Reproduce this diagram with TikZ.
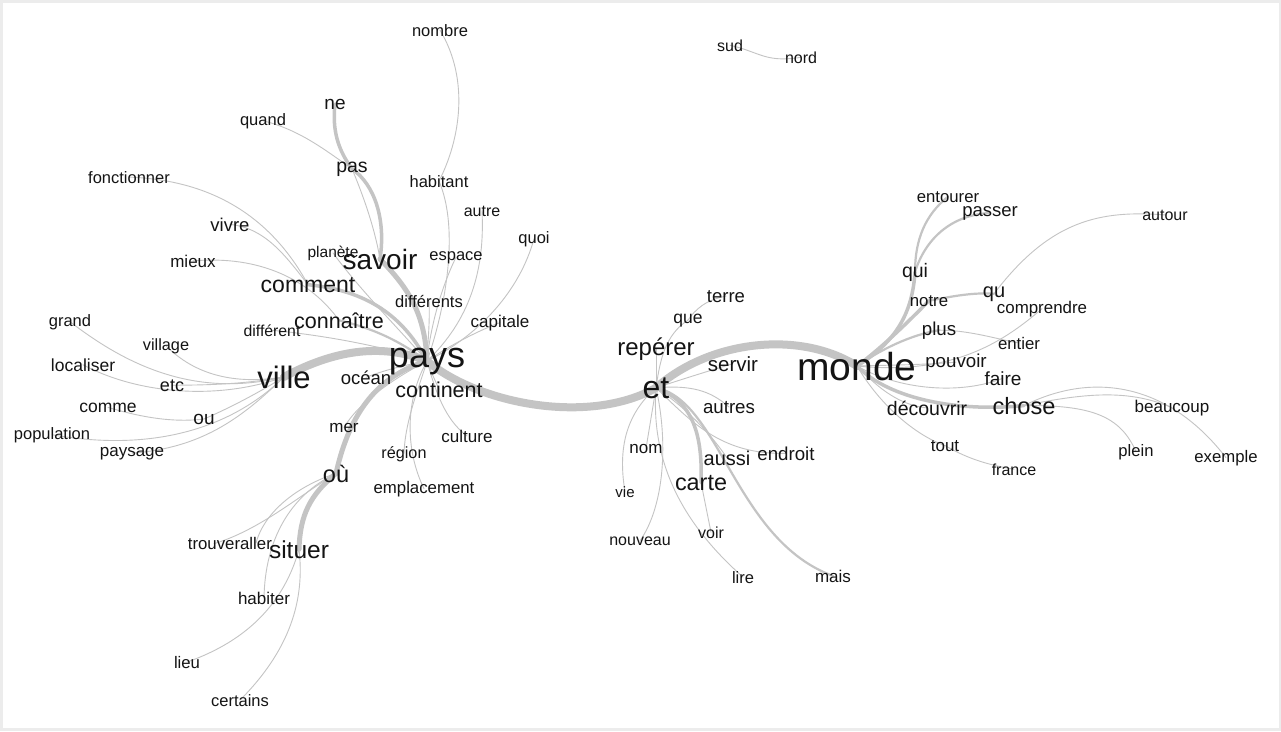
\documentclass[tikz,border=0pt]{standalone}
\usepackage{fontspec}
\setmainfont{Liberation Sans}
\pgfdeclarelayer{bg}
\pgfdeclarelayer{edges}
\pgfsetlayers{bg,edges,main}
\definecolor{edgec}{RGB}{196,196,196}
\definecolor{txt}{RGB}{20,20,20}
\definecolor{framec}{RGB}{236,236,236}
\tikzset{
  w/.style={font=\fontsize{#1}{#1}\selectfont, anchor=base, inner sep=0pt, text=txt},
  e1/.style={draw=edgec, line width=0.9pt, line cap=round},
  e2/.style={draw=edgec, line width=2.2pt, line cap=round},
  e3/.style={draw=edgec, line width=3.5pt, line cap=round},
  e4/.style={draw=edgec, line width=5pt, line cap=round},
  e5/.style={draw=edgec, line width=8pt, line cap=round}
}
\begin{document}
\begin{tikzpicture}[x=1pt,y=-1pt]
\useasboundingbox (0,0) rectangle (1281,731);
\begin{pgfonlayer}{bg}
\fill[framec] (0,0) rectangle (1281,731);
\fill[white] (3,3) rectangle (1279,728);
\end{pgfonlayer}
% ---------- words ----------
\node[w=16.5] (nombre) at (440,36) {nombre};
\node[w=19] (ne) at (335,109) {ne};
\node[w=16.5] (quand) at (263,125) {quand};
\node[w=19.5] (pas) at (352,172) {pas};
\node[w=16.5] (fonctionner) at (129,183) {fonctionner};
\node[w=16.5] (habitant) at (439,187) {habitant};
\node[w=16] (autre) at (482,216) {autre};
\node[w=18.5] (vivre) at (230,231) {vivre};
\node[w=16.5] (quoi) at (534,243) {quoi};
\node[w=15.5] (planete) at (333,257) {planète};
\node[w=16.5] (espace) at (456,260) {espace};
\node[w=28] (savoir) at (380,269) {savoir};
\node[w=17] (mieux) at (193,267) {mieux};
\node[w=23] (comment) at (308,292) {comment};
\node[w=16.5] (differents) at (429,307) {différents};
\node[w=16.5] (grand) at (70,326) {grand};
\node[w=17] (capitale) at (500,327) {capitale};
\node[w=21.5] (connaitre) at (339,328) {connaître};
\node[w=15.8] (different) at (272,336) {différent};
\node[w=16.3] (village) at (166,350) {village};
\node[w=36] (pays) at (427,367) {pays};
\node[w=17.5] (localiser) at (83,371) {localiser};
\node[w=18.5] (ocean) at (366,384) {océan};
\node[w=31] (ville) at (284,388) {ville};
\node[w=18] (etc) at (172,391) {etc};
\node[w=21.5] (continent) at (439,397) {continent};
\node[w=17.5] (comme) at (108,412) {comme};
\node[w=19] (ou) at (204,424) {ou};
\node[w=17] (mer) at (344,432) {mer};
\node[w=16.5] (population) at (52,439) {population};
\node[w=17] (culture) at (467,442) {culture};
\node[w=17] (paysage) at (132,456) {paysage};
\node[w=16.2] (region) at (404,458) {région};
\node[w=23.5] (oux) at (336,482) {où};
\node[w=16.8] (emplacement) at (424,493) {emplacement};
\node[w=16.8] (trouver) at (214,549) {trouver};
\node[w=16.8] (aller) at (256,549) {aller};
\node[w=24.5] (situer) at (299,558) {situer};
\node[w=17] (habiter) at (264,604) {habiter};
\node[w=16.7] (lieu) at (187,668) {lieu};
\node[w=16.5] (certains) at (240,706) {certains};
\node[w=16] (sud) at (730,51) {sud};
\node[w=16] (nord) at (801,63) {nord};
\node[w=18.5] (terre) at (726,302) {terre};
\node[w=17.5] (que) at (688,323) {que};
\node[w=24] (reperer) at (656,355) {repérer};
\node[w=20.5] (servir) at (733,371) {servir};
\node[w=32] (et) at (656,398) {et};
\node[w=18.7] (autres) at (729,413) {autres};
\node[w=17] (nom) at (646,453) {nom};
\node[w=18.7] (endroit) at (786,460) {endroit};
\node[w=20] (aussi) at (727,465) {aussi};
\node[w=23.4] (carte) at (701,490) {carte};
\node[w=15] (vie) at (625,497) {vie};
\node[w=16] (voir) at (711,538) {voir};
\node[w=16] (nouveau) at (640,545) {nouveau};
\node[w=16.5] (lire) at (743,583) {lire};
\node[w=17] (mais) at (833,582) {mais};
\node[w=16.7] (entourer) at (948,202) {entourer};
\node[w=18.5] (passer) at (990,216) {passer};
\node[w=16] (autour) at (1165,220) {autour};
\node[w=19.5] (qui) at (915,277) {qui};
\node[w=20] (qu) at (994,297) {qu};
\node[w=16.8] (notre) at (929,306) {notre};
\node[w=16.9] (comprendre) at (1042,313) {comprendre};
\node[w=18.7] (plus) at (939,335) {plus};
\node[w=16.8] (entier) at (1019,349) {entier};
\node[w=18.7] (pouvoir) at (956,367) {pouvoir};
\node[w=39] (monde) at (857,380) {monde};
\node[w=19] (faire) at (1003,385) {faire};
\node[w=19.5] (decouvrir) at (927,415) {découvrir};
\node[w=23.6] (chose) at (1024,414) {chose};
\node[w=17] (beaucoup) at (1172,412) {beaucoup};
\node[w=17] (tout) at (945,451) {tout};
\node[w=16.6] (plein) at (1136,456) {plein};
\node[w=16.7] (exemple) at (1226,462) {exemple};
\node[w=16] (france) at (1014,475) {france};
% ---------- edges ----------
\begin{pgfonlayer}{edges}
% trunk
\draw[e5] (ville.center) .. controls (325,355) and (375,340) .. (pays.center);
\draw[e5] (pays.center) .. controls (480,405) and (590,425) .. (et.center);
\draw[e5] (et.center) .. controls (710,340) and (800,330) .. (monde.center);
\draw[e4] (pays.center) .. controls (380,375) and (350,410) .. (oux.center);
\draw[e4] (oux.center) .. controls (310,495) and (300,515) .. (situer.center);
% savoir / pays cluster
\draw[e3] (ne.center) .. controls (332,130) and (338,150) .. (pas.center);
\draw[e3] (pas.center) .. controls (375,185) and (386,220) .. (savoir.center);
\draw[e4] (savoir.center) .. controls (405,285) and (425,310) .. (pays.center);
\draw[e3] (comment.center) .. controls (360,290) and (400,310) .. (pays.center);
\draw[e2] (connaitre.center) .. controls (380,330) and (405,345) .. (pays.center);
\draw[e1] (quand.center) .. controls (300,130) and (325,150) .. (pas.center);
\draw[e1] (pas.center) .. controls (365,200) and (375,230) .. (savoir.center);
\draw[e1] (fonctionner.center) .. controls (210,180) and (270,215) .. (comment.center);
\draw[e1] (vivre.center) .. controls (265,228) and (285,255) .. (comment.center);
\draw[e1] (mieux.center) .. controls (260,255) and (310,280) .. (connaitre.center);
\draw[e1] (different.center) .. controls (320,335) and (380,345) .. (pays.center);
\draw[e1] (planete.center) .. controls (360,290) and (400,330) .. (pays.center);
\draw[e1] (espace.center) .. controls (440,290) and (430,330) .. (pays.center);
\draw[e1] (differents.center) .. controls (430,320) and (428,340) .. (pays.center);
\draw[e1] (nombre.center) .. controls (470,80) and (460,140) .. (habitant.center);
\draw[e1] (habitant.center) .. controls (460,230) and (445,310) .. (pays.center);
\draw[e1] (autre.center) .. controls (485,270) and (470,320) .. (pays.center);
\draw[e1] (quoi.center) .. controls (520,290) and (480,335) .. (pays.center);
\draw[e1] (capitale.center) .. controls (480,330) and (450,345) .. (pays.center);
\draw[e1] (ocean.center) .. controls (385,370) and (405,365) .. (pays.center);
\draw[e1] (continent.center) .. controls (435,380) and (430,370) .. (pays.center);
\draw[e1] (culture.center) .. controls (445,420) and (435,390) .. (pays.center);
\draw[e1] (region.center) .. controls (405,420) and (420,385) .. (pays.center);
\draw[e1] (emplacement.center) .. controls (405,450) and (405,400) .. (pays.center);
\draw[e1] (mer.center) .. controls (360,400) and (400,375) .. (pays.center);
% ville cluster
\draw[e1] (grand.center) .. controls (120,360) and (190,400) .. (ville.center);
\draw[e1] (village.center) .. controls (195,375) and (235,385) .. (ville.center);
\draw[e1] (localiser.center) .. controls (140,395) and (220,400) .. (ville.center);
\draw[e1] (etc.center) .. controls (200,385) and (240,385) .. (ville.center);
\draw[e1] (comme.center) .. controls (150,420) and (180,422) .. (ou.center);
\draw[e1] (ou.center) .. controls (225,410) and (255,395) .. (ville.center);
\draw[e1] (population.center) .. controls (150,452) and (230,430) .. (ville.center);
\draw[e1] (paysage.center) .. controls (200,448) and (240,420) .. (ville.center);
% situer cluster
\draw[e1] (trouver.center) .. controls (260,530) and (300,495) .. (oux.center);
\draw[e1] (aller.center) .. controls (265,510) and (300,485) .. (oux.center);
\draw[e1] (habiter.center) .. controls (265,540) and (290,495) .. (oux.center);
\draw[e1] (lieu.center) .. controls (250,640) and (285,600) .. (situer.center);
\draw[e1] (certains.center) .. controls (290,650) and (305,600) .. (situer.center);
% sud nord
\draw[e1] (sud.center) .. controls (760,52) and (765,63) .. (nord.center);
% et cluster
\draw[e1] (reperer.center) -- (et.center);
\draw[e1] (terre.center) .. controls (705,300) and (695,310) .. (que.center);
\draw[e1] (que.center) .. controls (665,335) and (660,360) .. (et.center);
\draw[e1] (servir.center) .. controls (705,372) and (680,380) .. (et.center);
\draw[e1] (autres.center) .. controls (710,390) and (690,385) .. (et.center);
\draw[e1] (endroit.center) .. controls (720,455) and (690,420) .. (et.center);
\draw[e3] (et.center) .. controls (690,400) and (703,430) .. (carte.center);
\draw[e2] (et.center) .. controls (720,400) and (735,540) .. (mais.center);
\draw[e1] (aussi.center) .. controls (715,440) and (690,410) .. (et.center);
\draw[e1] (voir.center) -- (carte.center);
\draw[e1] (nom.center) -- (et.center);
\draw[e1] (vie.center) .. controls (618,450) and (625,415) .. (et.center);
\draw[e1] (nouveau.center) .. controls (665,505) and (668,440) .. (et.center);
\draw[e1] (lire.center) .. controls (690,530) and (650,470) .. (et.center);
% monde cluster
\draw[e3] (qui.center) .. controls (912,320) and (890,345) .. (monde.center);
\draw[e2] (entourer.center) .. controls (925,215) and (915,240) .. (qui.center);
\draw[e2] (passer.center) .. controls (950,215) and (925,240) .. (qui.center);
\draw[e2] (qu.center) .. controls (970,292) and (945,298) .. (notre.center);
\draw[e3] (notre.center) .. controls (910,320) and (885,345) .. (monde.center);
\draw[e1] (qu.center) .. controls (1050,220) and (1100,210) .. (autour.center);
\draw[e1] (comprendre.center) .. controls (1000,345) and (950,375) .. (monde.center);
\draw[e1] (plus.center) .. controls (970,330) and (1000,340) .. (entier.center);
\draw[e2] (plus.center) .. controls (910,335) and (880,350) .. (monde.center);
\draw[e1] (pouvoir.center) .. controls (920,365) and (890,365) .. (monde.center);
\draw[e1] (faire.center) .. controls (960,395) and (900,390) .. (monde.center);
\draw[e1] (decouvrir.center) .. controls (900,405) and (880,390) .. (monde.center);
\draw[e3] (chose.center) .. controls (960,412) and (890,400) .. (monde.center);
\draw[e1] (chose.center) .. controls (1090,392) and (1130,390) .. (beaucoup.center);
\draw[e1] (chose.center) .. controls (1095,370) and (1170,385) .. (exemple.center);
\draw[e1] (chose.center) .. controls (1090,405) and (1120,415) .. (plein.center);
\draw[e1] (tout.center) .. controls (915,435) and (880,405) .. (monde.center);
\draw[e1] (tout.center) .. controls (970,460) and (990,465) .. (france.center);
\end{pgfonlayer}
\end{tikzpicture}
\end{document}
